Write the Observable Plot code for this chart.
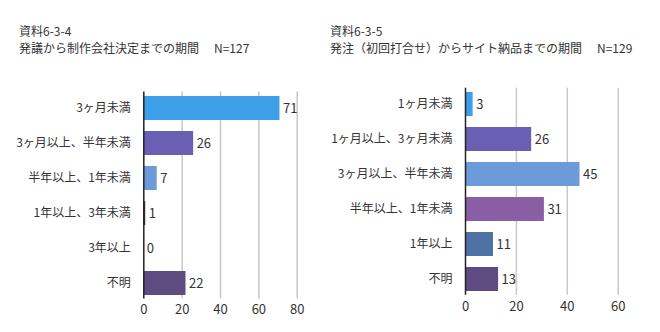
<!DOCTYPE html>
<html>
<head>
<meta charset="utf-8">
<script src="https://cdn.jsdelivr.net/npm/d3@7"></script>
<script src="https://cdn.jsdelivr.net/npm/@observablehq/plot@0.6"></script>
<style>
  body { margin:0; background:#fff; font-family:"Noto Sans CJK JP", sans-serif; color:#333; }
  #wrap { position:relative; width:660px; height:332px; overflow:hidden; }
  .title { position:absolute; top:22px; font-size:12px; line-height:17px; white-space:nowrap; color:#333; }
  .title .n { margin-left:15px; }
  .chart { position:absolute; top:82px; }
</style>
</head>
<body>
<div id="wrap">
  <div class="title" style="left:19px">資料6-3-4<br>発議から制作会社決定までの期間<span class="n">N=127</span></div>
  <div class="title" style="left:330px">資料6-3-5<br>発注（初回打合せ）からサイト納品までの期間<span class="n">N=129</span></div>
  <div class="chart" id="left" style="left:0px"></div>
  <div class="chart" id="right" style="left:330px"></div>
</div>
<script>
// Left chart data
const leftCategories = ["3ヶ月未満", "3ヶ月以上、半年未満", "半年以上、1年未満", "1年以上、3年未満", "3年以上", "不明"];
const leftValues = [71, 26, 7, 1, 0, 22];
const leftTicks = [0, 20, 40, 60, 80];

// Right chart data
const rightCategories = ["1ヶ月未満", "1ヶ月以上、3ヶ月未満", "3ヶ月以上、半年未満", "半年以上、1年未満", "1年以上", "不明"];
const rightValues = [3, 26, 45, 31, 11, 13];
const rightTicks = [0, 20, 40, 60];

const leftPalette = ["#3d9fe8", "#6a5fb3", "#6d9ad8", "#3a3550", "#5e4b80", "#5e4b80"];
const rightPalette = ["#3d9fe8", "#6a5fb3", "#6d9ad8", "#8a5ea3", "#4f72a6", "#5e4b80"];

function chart(cats, vals, ticks, palette, m) {
  const data = cats.map((c, i) => ({cat: c, value: vals[i]}));
  return Plot.plot({
    width: 330, height: 250,
    marginLeft: m.left, marginRight: m.right, marginTop: m.top, marginBottom: m.bottom,
    style: {fontFamily: '"Noto Sans CJK JP", sans-serif', fontSize: "12px", color: "#333", background: "transparent"},
    x: {domain: [ticks[0], ticks[ticks.length - 1]], axis: null},
    y: {domain: cats, paddingInner: 0.32, paddingOuter: 0.16, axis: null},
    color: {domain: cats, range: palette},
    marks: [
      Plot.gridX(ticks.slice(1), {stroke: "#c8c8c8", strokeWidth: 1.5, strokeOpacity: 1, insetTop: 2, insetBottom: 2}),
      Plot.barX(data, {x: "value", y: "cat", fill: "cat"}),
      Plot.ruleX([0], {stroke: "#222", strokeWidth: 1.5, insetTop: 2, insetBottom: 2}),
      Plot.text(data, {x: "value", y: "cat", text: d => String(d.value), dx: 3, textAnchor: "start", fontSize: 13, fill: "#333"}),
      Plot.axisX(ticks, {tickSize: 0, tickPadding: 4, fontSize: 13, fill: "#333", label: null}),
      Plot.axisY({tickSize: 0, tickPadding: 13, fontSize: 12, fill: "#333", label: null})
    ]
  });
}

document.getElementById("left").appendChild(
  chart(leftCategories, leftValues, leftTicks, leftPalette, {left: 143.3, right: 33.3, top: 7.4, bottom: 31.4})
);
document.getElementById("right").appendChild(
  chart(rightCategories, rightValues, rightTicks, rightPalette, {left: 135, right: 42.3, top: 3.7, bottom: 35.2})
);
</script>
</body>
</html>
